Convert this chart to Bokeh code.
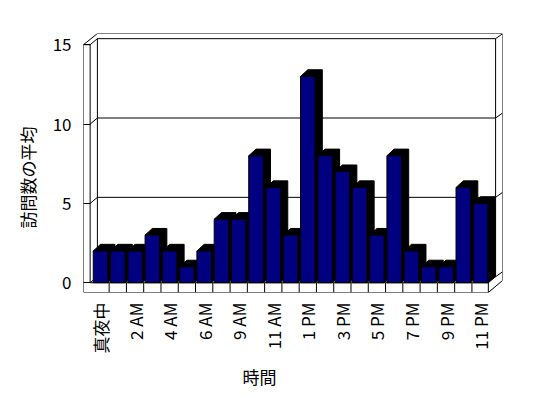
import math
from bokeh.plotting import figure
from bokeh.models import Range1d, FixedTicker, Title
from bokeh.embed import file_html
from bokeh.resources import INLINE

# ---- data ----
hours = ["真夜中", "1 AM", "2 AM", "3 AM", "4 AM", "5 AM", "6 AM", "8 AM", "9 AM",
         "10 AM", "11 AM", "正午", "1 PM", "2 PM", "3 PM", "4 PM", "5 PM", "6 PM",
         "7 PM", "8 PM", "9 PM", "10 PM", "11 PM"]
visits = [2, 2, 2, 3, 2, 1, 2, 4, 4, 8, 6, 3, 13, 8, 7, 6, 3, 8, 2, 1, 1, 6, 5]
y_ticks = [0, 5, 10, 15]
x_title = "時間"
y_title = "訪問数の平均"

FONT = "Noto Sans CJK JP"
NAVY = "#000080"

# ---- geometry (data units) ----
n = len(visits)
YMAX = y_ticks[-1]
X_LO, X_HI = -0.985, n + 0.27          # outer box left / right
Y_LO, Y_HI = -0.615, YMAX + 0.705      # floor bottom / outer top
X_WALL = -0.6                          # inner edge of left wall front face
X_RF = n - 0.55                        # right end of floor front face
DX, DY = 0.42, 0.38                    # wall depth
X_RI = X_RF + DX                       # inner right edge of back wall
BACK_L = X_WALL + DX

W, H = 540, 398
ML, MT, FW, FH = 83, 33, 419, 259

p = figure(width=W, height=H, title=None,
           x_range=Range1d(X_LO, X_HI), y_range=Range1d(Y_LO, Y_HI),
           output_backend="svg", toolbar_location=None,
           min_border_left=ML, min_border_top=MT,
           min_border_right=W - ML - FW, min_border_bottom=H - MT - FH)
p.grid.visible = False
p.outline_line_color = None
p.background_fill_color = "white"
p.border_fill_color = "white"

# ---- frame lines ----
xs, ys = [], []
def seg(x0, y0, x1, y1):
    xs.append([x0, x1]); ys.append([y0, y1])

for v in y_ticks:
    seg(X_WALL, v, BACK_L, v + DY)
    seg(BACK_L, v + DY, X_RI, v + DY)
    seg(X_RI, v + DY, X_HI, min(v + DY + 0.31, Y_HI))
seg(BACK_L, DY, BACK_L, YMAX + DY)
seg(X_LO, YMAX, BACK_L, Y_HI)
seg(BACK_L, Y_HI, X_HI, Y_HI)
seg(X_RI, DY, X_RI, YMAX + DY)
seg(X_HI, Y_HI, X_HI, 0.14)
seg(X_RF, Y_LO, X_HI, 0.14)
seg(X_RF, 0, X_RI, DY)
p.multi_line(xs, ys, line_color="black", line_width=1)

# ---- bars (3D) ----
hw, bdx, bdy = 0.42, 0.42, 0.42
idx = list(range(n))
bx, by = [], []
for i, v in zip(idx, visits):
    bx.append([i - hw, i - hw + bdx, i + hw + bdx, i + hw + bdx, i + hw, i + hw])
    by.append([v, v + bdy, v + bdy, bdy, 0, v])
p.patches(bx, by, fill_color="black", line_color="black", line_width=1)
p.quad(left=[i - hw for i in idx], right=[i + hw for i in idx],
       bottom=0, top=visits, fill_color=NAVY, line_color="black", line_width=1)

# ---- front faces of walls / floor ----
fx, fy = [], []
fx.append([X_LO, X_LO, X_RF, X_RF, X_WALL, X_WALL, X_LO])
fy.append([YMAX, Y_LO, Y_LO, 0, 0, YMAX, YMAX])
for i in range(n - 1):
    fx.append([i + 0.5, i + 0.5]); fy.append([Y_LO, 0])
p.multi_line(fx, fy, line_color="black", line_width=1)

# ---- axes ----
for ax in (p.xaxis, p.yaxis):
    ax.axis_line_color = None
    ax.minor_tick_line_color = None
    ax.major_label_text_font = FONT
    ax.major_label_text_font_size = "17px"
    ax.major_label_text_color = "black"
    ax.major_tick_line_color = "black"

p.yaxis.ticker = FixedTicker(ticks=y_ticks)
p.yaxis.major_tick_in = 7
p.yaxis.major_tick_out = 0
p.yaxis.major_label_standoff = 12

even = list(range(0, n, 2))
p.xaxis.ticker = FixedTicker(ticks=even)
p.xaxis.major_label_overrides = {i: hours[i] for i in even}
p.xaxis.major_label_orientation = math.pi / 2
p.xaxis.major_tick_in = 0
p.xaxis.major_tick_out = 0
p.xaxis.major_label_standoff = 10

p.add_layout(Title(text=x_title, align="left", offset=159, standoff=10,
                   text_font=FONT, text_font_size="17px", text_color="black",
                   text_font_style="normal"), "below")
p.add_layout(Title(text=y_title, align="left", offset=64, standoff=19,
                   text_font=FONT, text_font_size="17px", text_color="black",
                   text_font_style="normal"), "left")

open("out.html", "w").write(file_html(p, INLINE))
